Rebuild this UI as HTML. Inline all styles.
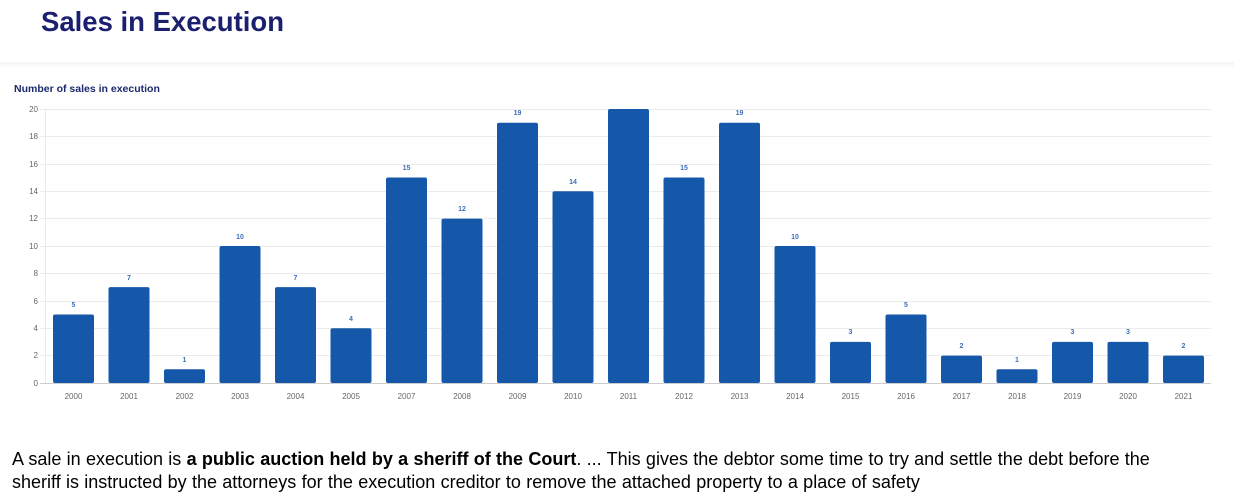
<!DOCTYPE html>
<html><head><meta charset="utf-8"><style>
body{margin:0;width:1234px;height:504px;background:#fff;overflow:hidden;font-family:"Liberation Sans",Arial,sans-serif;position:relative}
h1{position:absolute;left:41px;top:6px;margin:0;font-size:27.5px;font-weight:bold;color:#1a1f6e}
.band{position:absolute;left:0;top:62px;width:1234px;height:6px;background:linear-gradient(#f4f4f4,#fff)}
p{position:absolute;left:12px;top:448px;margin:0;font-size:18px;line-height:23px;color:#000;width:1175px;word-spacing:0.3px}
svg{position:absolute;left:0;top:0}
</style></head><body>
<h1>Sales in Execution</h1>
<div class="band"></div>
<svg width="1234" height="504" font-family="Liberation Sans, Arial, sans-serif">
<text x="14" y="92" font-size="10.5" font-weight="bold" fill="#1a2a6c">Number of sales in execution</text>
<g stroke="#ebebeb" stroke-width="1">
<line x1="40" x2="1211" y1="109.5" y2="109.5"/><line x1="40" x2="1211" y1="136.5" y2="136.5"/>
<line x1="40" x2="1211" y1="164.5" y2="164.5"/><line x1="40" x2="1211" y1="191.5" y2="191.5"/>
<line x1="40" x2="1211" y1="218.5" y2="218.5"/><line x1="40" x2="1211" y1="246.5" y2="246.5"/>
<line x1="40" x2="1211" y1="273.5" y2="273.5"/><line x1="40" x2="1211" y1="301.5" y2="301.5"/>
<line x1="40" x2="1211" y1="328.5" y2="328.5"/><line x1="40" x2="1211" y1="355.5" y2="355.5"/>
<line x1="45.5" x2="45.5" y1="109" y2="383"/>
</g>
<line x1="40" x2="1211" y1="383.5" y2="383.5" stroke="#ccc"/>
<g font-size="8" fill="#666" text-anchor="end">
<text x="38" y="112">20</text><text x="38" y="139">18</text><text x="38" y="167">16</text>
<text x="38" y="194">14</text><text x="38" y="221">12</text><text x="38" y="249">10</text>
<text x="38" y="276">8</text><text x="38" y="304">6</text><text x="38" y="331">4</text>
<text x="38" y="358">2</text><text x="38" y="386">0</text>
</g>
<g fill="#1557a8">
<rect x="53" y="314.5" width="41" height="68.5" rx="2"/>
<rect x="108.5" y="287.1" width="41" height="95.9" rx="2"/>
<rect x="164" y="369.3" width="41" height="13.7" rx="2"/>
<rect x="219.5" y="246" width="41" height="137" rx="2"/>
<rect x="275" y="287.1" width="41" height="95.9" rx="2"/>
<rect x="330.5" y="328.2" width="41" height="54.8" rx="2"/>
<rect x="386" y="177.5" width="41" height="205.5" rx="2"/>
<rect x="441.5" y="218.6" width="41" height="164.4" rx="2"/>
<rect x="497" y="122.7" width="41" height="260.3" rx="2"/>
<rect x="552.5" y="191.2" width="41" height="191.8" rx="2"/>
<rect x="608" y="109" width="41" height="274" rx="2"/>
<rect x="663.5" y="177.5" width="41" height="205.5" rx="2"/>
<rect x="719" y="122.7" width="41" height="260.3" rx="2"/>
<rect x="774.5" y="246" width="41" height="137" rx="2"/>
<rect x="830" y="341.9" width="41" height="41.1" rx="2"/>
<rect x="885.5" y="314.5" width="41" height="68.5" rx="2"/>
<rect x="941" y="355.6" width="41" height="27.4" rx="2"/>
<rect x="996.5" y="369.3" width="41" height="13.7" rx="2"/>
<rect x="1052" y="341.9" width="41" height="41.1" rx="2"/>
<rect x="1107.5" y="341.9" width="41" height="41.1" rx="2"/>
<rect x="1163" y="355.6" width="41" height="27.4" rx="2"/>
</g>
<g font-size="7" font-weight="bold" fill="#3f6fb8" text-anchor="middle">
<text x="73.5" y="307">5</text><text x="129" y="280">7</text><text x="184.5" y="362">1</text>
<text x="240" y="239">10</text><text x="295.5" y="280">7</text><text x="351" y="321">4</text>
<text x="406.5" y="170">15</text><text x="462" y="211">12</text><text x="517.5" y="115">19</text>
<text x="573" y="184">14</text><text x="684" y="170">15</text><text x="739.5" y="115">19</text>
<text x="795" y="239">10</text><text x="850.5" y="334">3</text><text x="906" y="307">5</text>
<text x="961.5" y="348">2</text><text x="1017" y="362">1</text><text x="1072.5" y="334">3</text>
<text x="1128" y="334">3</text><text x="1183.5" y="348">2</text>
</g>
<g font-size="8" fill="#666" text-anchor="middle">
<text x="73.5" y="399">2000</text><text x="129" y="399">2001</text><text x="184.5" y="399">2002</text>
<text x="240" y="399">2003</text><text x="295.5" y="399">2004</text><text x="351" y="399">2005</text>
<text x="406.5" y="399">2007</text><text x="462" y="399">2008</text><text x="517.5" y="399">2009</text>
<text x="573" y="399">2010</text><text x="628.5" y="399">2011</text><text x="684" y="399">2012</text>
<text x="739.5" y="399">2013</text><text x="795" y="399">2014</text><text x="850.5" y="399">2015</text>
<text x="906" y="399">2016</text><text x="961.5" y="399">2017</text><text x="1017" y="399">2018</text>
<text x="1072.5" y="399">2019</text><text x="1128" y="399">2020</text><text x="1183.5" y="399">2021</text>
</g>
</svg>
<p>A sale in execution is <b>a public auction held by a sheriff of the Court</b>. ... This gives the debtor some time to try and settle the debt before the sheriff is instructed by the attorneys for the execution creditor to remove the attached property to a place of safety</p>
</body></html>
